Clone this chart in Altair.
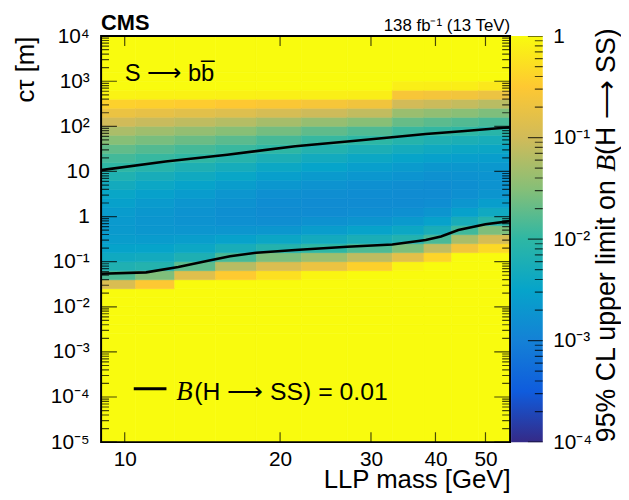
import pandas as pd
import altair as alt

# ---------------- data ----------------
# mass bin edges [GeV] and log10(c*tau [m]) bin edges
mass_edges = [9.0, 10.5, 12.5, 15.0, 18.0, 22.0, 27.0, 33.0, 38.0, 43.0, 48.5, 55.8]
ctau_edges_log = [-5.0, -2.6, -2.4, -2.2, -2.0, -1.8, -1.6, -1.4, -1.2, -1.0, -0.8,
                  -0.6, -0.4, -0.2, 0.0, 0.2, 0.4, 0.6, 0.8, 1.0, 1.2, 1.4, 1.6,
                  1.8, 2.0, 2.2, 2.4, 2.6, 2.8, 3.0, 3.2, 4.0]

# log10 of the 95% CL upper limit on B(H->SS), one list per mass bin (bottom -> top in c*tau)
limit_m09 = [0, 0, 0, 0, 0, 0, -0.91, -1.82, -2.18, -2.37, -2.51, -2.60, -2.64, -2.65, -2.61, -2.55,
             -2.46, -2.33, -2.17, -2.00, -1.88, -1.71, -1.50, -1.26, -1.00, -0.71, -0.41, -0.08, 0, 0, 0]
limit_m11 = [0, 0, 0, 0, 0, 0, -0.51, -1.54, -2.13, -2.34, -2.50, -2.61, -2.68, -2.70, -2.68, -2.63,
             -2.54, -2.43, -2.28, -2.09, -1.95, -1.79, -1.58, -1.34, -1.06, -0.76, -0.43, -0.09, 0, 0, 0]
limit_m14 = [0, 0, 0, 0, 0, 0, 0, -0.84, -1.73, -2.20, -2.43, -2.59, -2.70, -2.75, -2.74, -2.70,
             -2.62, -2.52, -2.37, -2.20, -2.00, -1.87, -1.66, -1.41, -1.12, -0.81, -0.46, -0.09, 0, 0, 0]
limit_m16 = [0, 0, 0, 0, 0, 0, 0, -0.48, -1.17, -1.86, -2.27, -2.53, -2.70, -2.79, -2.80, -2.76,
             -2.70, -2.60, -2.46, -2.30, -2.10, -1.94, -1.75, -1.49, -1.19, -0.86, -0.50, -0.10, 0, 0, 0]
limit_m20 = [0, 0, 0, 0, 0, 0, 0, -0.26, -0.90, -1.55, -2.12, -2.44, -2.68, -2.81, -2.85, -2.83,
             -2.78, -2.69, -2.57, -2.42, -2.23, -2.01, -1.86, -1.60, -1.29, -0.94, -0.54, -0.11, 0, 0, 0]
limit_m24 = [0, 0, 0, 0, 0, 0, 0, -0.06, -0.71, -1.35, -2.00, -2.34, -2.60, -2.76, -2.84, -2.84,
             -2.81, -2.74, -2.64, -2.50, -2.34, -2.14, -1.95, -1.72, -1.40, -1.02, -0.59, -0.12, 0, 0, 0]
limit_m30 = [0, 0, 0, 0, 0, 0, 0, 0, -0.42, -1.12, -1.82, -2.25, -2.52, -2.71, -2.82, -2.85,
             -2.83, -2.78, -2.69, -2.57, -2.42, -2.23, -2.01, -1.81, -1.49, -1.10, -0.64, -0.13, 0, 0, 0]
limit_m35 = [0, 0, 0, 0, 0, 0, 0, 0, -0.07, -0.81, -1.56, -2.14, -2.42, -2.64, -2.78, -2.84,
             -2.84, -2.81, -2.73, -2.63, -2.49, -2.31, -2.11, -1.93, -1.68, -1.37, -0.99, -0.58, -0.12, 0, 0]
limit_m40 = [0, 0, 0, 0, 0, 0, 0, 0, 0, -0.37, -1.11, -1.85, -2.26, -2.53, -2.71, -2.82,
             -2.85, -2.83, -2.77, -2.68, -2.55, -2.38, -2.18, -1.97, -1.75, -1.43, -1.04, -0.61, -0.13, 0, 0]
limit_m46 = [0, 0, 0, 0, 0, 0, 0, 0, 0, 0, -0.63, -1.27, -1.90, -2.28, -2.54, -2.70,
             -2.79, -2.80, -2.76, -2.68, -2.57, -2.42, -2.23, -2.00, -1.80, -1.48, -1.09, -0.63, -0.13, 0, 0]
limit_m52 = [0, 0, 0, 0, 0, 0, 0, 0, 0, 0, -0.33, -0.94, -1.55, -2.09, -2.38, -2.58,
             -2.71, -2.75, -2.73, -2.67, -2.58, -2.44, -2.27, -2.06, -1.86, -1.55, -1.16, -0.70, -0.19, 0, 0]
limit_columns = [limit_m09, limit_m11, limit_m14, limit_m16, limit_m20, limit_m24,
                 limit_m30, limit_m35, limit_m40, limit_m46, limit_m52]

# B(H->SS) = 0.01 contour
upper_mass = [9.0, 12.0, 15.8, 21.4, 28.0, 38.3, 45.0, 55.8]
upper_ctau = [10.7, 16.6, 23.4, 36.3, 47.9, 67.6, 77.6, 95.5]
lower_mass = [9.0, 11.0, 12.7, 14.5, 16.0, 18.0, 21.4, 27.0, 33.0, 38.3, 41.0, 44.3, 50.0, 55.8]
lower_ctau = [0.054, 0.058, 0.076, 0.105, 0.132, 0.158, 0.182, 0.214, 0.240, 0.302,
              0.363, 0.501, 0.676, 0.794]

x_tick_values = [10, 20, 30, 40, 50]
y_tick_exponents = [-5, -4, -3, -2, -1, 0, 1, 2, 3, 4]
y_tick_labels = ["10⁻⁵", "10⁻⁴", "10⁻³", "10⁻²", "10⁻¹", "1", "10", "10²", "10³", "10⁴"]
cbar_tick_exponents = [-4, -3, -2, -1, 0]
cbar_tick_labels = ["10⁻⁴", "10⁻³", "10⁻²", "10⁻¹", "1"]

# ROOT kBird palette
bird_colors = ["#352a87", "#0f5cdd", "#1481d6", "#06a4ca", "#2eb7a4",
               "#87bf77", "#d1bb59", "#fec832", "#f9fb0e"]
bird_levels = [-4.0, -3.5, -3.0, -2.5, -2.0, -1.5, -1.0, -0.5, 0.0]

FONT = "Liberation Sans"
W, H = 413, 410

# ---------------- tables ----------------
cells = []
for i, col in enumerate(limit_columns):
    for j, v in enumerate(col):
        cells.append({"m0": mass_edges[i], "m1": mass_edges[i + 1],
                      "c0": 10 ** ctau_edges_log[j], "c1": 10 ** ctau_edges_log[j + 1],
                      "L": v})
df_heat = pd.DataFrame(cells)

df_cont = pd.concat([
    pd.DataFrame({"m": upper_mass, "c": upper_ctau, "branch": "upper"}),
    pd.DataFrame({"m": lower_mass, "c": lower_ctau, "branch": "lower"}),
])


def log_ticks(exps):
    rows = []
    for e in exps:
        rows.append({"v": 10.0 ** e, "major": True})
    for e in exps[:-1]:
        for k in range(2, 10):
            rows.append({"v": k * 10.0 ** e, "major": False})
    return pd.DataFrame(rows)


df_yt = log_ticks(y_tick_exponents)
df_ct = log_ticks(cbar_tick_exponents)
df_xt = pd.DataFrame({"v": x_tick_values})
one = pd.DataFrame({"a": [0]})

xs = alt.Scale(type="log", domain=[mass_edges[0], mass_edges[-1]], nice=False)
ys = alt.Scale(type="log", domain=[1e-5, 1e4], nice=False)
cs = alt.Scale(domain=bird_levels, range=bird_colors, clamp=True, interpolate="rgb")

y_expr = "[" + ",".join("'%s'" % s for s in y_tick_labels) + "][round(log(datum.value)/LN10)+5]"
c_expr = "[" + ",".join("'%s'" % s for s in cbar_tick_labels) + "][round(log(datum.value)/LN10)+4]"

AX_X = alt.Axis(
    values=x_tick_values, format="d", title="LLP mass [GeV]", ticks=False, tickSize=0,
    domain=False, grid=False, labelFont=FONT, labelFontSize=21, labelColor="black",
    labelPadding=7, labelFlush=False, labelOverlap=False,
    titleFont=FONT, titleFontSize=26, titleFontWeight="normal", titleColor="black",
    titleAnchor="end", titlePadding=-3)
AX_Y = alt.Axis(
    values=[10.0 ** e for e in y_tick_exponents], labelExpr=y_expr, title="cτ [m]",
    ticks=False, tickSize=0, domain=False, grid=False, labelFont=FONT, labelFontSize=21,
    labelColor="black", labelPadding=12, labelFlush=False, labelOverlap=False,
    titleFont=FONT, titleFontSize=26, titleFontWeight="normal", titleColor="black",
    titleAnchor="end", titlePadding=12)

heat = alt.Chart(df_heat).mark_rect(strokeWidth=0.6).encode(
    x=alt.X("m0:Q", scale=xs, axis=AX_X),
    x2="m1:Q",
    y=alt.Y("c0:Q", scale=ys, axis=AX_Y),
    y2="c1:Q",
    color=alt.Color("L:Q", scale=cs, legend=None),
    stroke=alt.Stroke("L:Q", scale=cs, legend=None),
)

contours = alt.Chart(df_cont).mark_line(color="black", strokeWidth=2.6, clip=True).encode(
    x=alt.X("m:Q", scale=xs, axis=AX_X),
    y=alt.Y("c:Q", scale=ys, axis=AX_Y),
    detail="branch:N",
)


def yticks(xpos):
    return alt.Chart(df_yt).mark_tick(orient="horizontal", clip=True, color="black", thickness=1.2).encode(
        y=alt.Y("v:Q", scale=ys, axis=AX_Y),
        x=alt.XDatum(xpos, scale=xs, axis=AX_X),
        size=alt.condition("datum.major", alt.value(32), alt.value(16)),
    )


def xticks(ypos):
    return alt.Chart(df_xt).mark_tick(orient="vertical", clip=True, color="black", thickness=1.2).encode(
        x=alt.X("v:Q", scale=xs, axis=AX_X),
        y=alt.YDatum(ypos, scale=ys, axis=AX_Y),
        size=alt.value(20),
    )


frame = alt.Chart(one).mark_rect(fillOpacity=0, stroke="black", strokeWidth=2).encode(
    x=alt.XDatum(mass_edges[0], scale=xs, axis=AX_X), x2=alt.X2Datum(mass_edges[-1]),
    y=alt.YDatum(1e-5, scale=ys, axis=AX_Y), y2=alt.Y2Datum(1e4),
)


def text(t, x, y, size, font=FONT, align="left", angle=0, **kw):
    return alt.Chart(pd.DataFrame({"t": [t]})).mark_text(
        font=font, fontSize=size, align=align, baseline="alphabetic", color="black",
        angle=angle, **kw
    ).encode(text="t:N", x=alt.value(x), y=alt.value(y))


leg_line = alt.Chart(one).mark_rule(color="black", strokeWidth=3).encode(
    x=alt.value(33), x2=alt.value(66), y=alt.value(356))

main = alt.layer(
    heat, contours,
    yticks(mass_edges[0]), yticks(mass_edges[-1]),
    xticks(1e-5), xticks(1e4),
    frame,
    text("CMS", 0, -6, 22, fontWeight="bold"),
    text("138 fb⁻¹ (13 TeV)", W, -5, 17, align="right"),
    text("S ⟶ bb\u0305", 24, 45, 24),
    leg_line,
    text("B", 76, 367, 27, font="Liberation Serif", fontStyle="italic"),
    text("(H ⟶ SS) = 0.01", 94, 367, 25),
).properties(width=W, height=H)

# ---------------- colour bar ----------------
cb_x = alt.Scale(domain=[0, 1], nice=False, zero=False)
cb_y = alt.Scale(type="log", domain=[1e-4, 1], nice=False)
AX_C = alt.Axis(
    orient="right", values=[10.0 ** e for e in cbar_tick_exponents], labelExpr=c_expr,
    title=None, ticks=False, tickSize=0, domain=False, grid=False, labelFont=FONT,
    labelFontSize=21, labelColor="black", labelPadding=10, labelFlush=False,
    labelOverlap=False)

grad = alt.Chart(one).mark_rect(
    fill=alt.Gradient(gradient="linear",
                      stops=[alt.GradientStop(color=c, offset=(lv + 4) / 4)
                             for c, lv in zip(bird_colors, bird_levels)],
                      x1=0, x2=0, y1=1, y2=0)
).encode(
    x=alt.XDatum(0, scale=cb_x, axis=None), x2=alt.X2Datum(1),
    y=alt.YDatum(1e-4, scale=cb_y, axis=AX_C), y2=alt.Y2Datum(1),
)

cticks = alt.Chart(df_ct).mark_tick(orient="horizontal", clip=True, color="black", thickness=1.2).encode(
    y=alt.Y("v:Q", scale=cb_y, axis=AX_C),
    x=alt.XDatum(1, scale=cb_x, axis=None),
    size=alt.condition("datum.major", alt.value(30), alt.value(16)),
)

cbar = alt.layer(
    grad, cticks,
    text("CMS", 0, -6, 22, fontWeight="bold", opacity=0),
    text("95% CL upper limit on", 105, 410, 27, angle=270),
    text("B", 105, 137, 28, font="Liberation Serif", fontStyle="italic", angle=270),
    text("(H ⟶ SS)", 105, 120, 27, angle=270),
).properties(width=32, height=H)

chart = alt.hconcat(main, cbar, spacing=0).properties(
    padding={"left": 4, "top": 2, "right": 0, "bottom": 0}
).configure_view(stroke=None)

chart.save("out.html", embed_options={"renderer": "svg", "actions": False})
